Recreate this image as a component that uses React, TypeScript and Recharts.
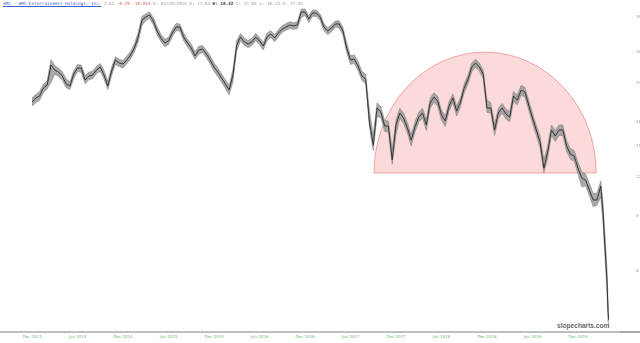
import { Area, ComposedChart, Line, ReferenceArea, XAxis, YAxis } from 'recharts';

// months after 1 Dec 2013, sampled about twice a month
const MONTHS = [
  0, 0.5, 1, 1.5, 2, 2.5, 3, 3.5, 4, 4.5, 5, 5.5, 6, 6.5, 7, 7.5, 8, 8.5, 9, 9.5,
  10, 10.5, 11, 11.5, 12, 12.5, 13, 13.5, 14, 14.5, 15, 15.5, 16, 16.5, 17, 17.5, 18, 18.5, 19, 19.5,
  20, 20.5, 21, 21.5, 22, 22.5, 23, 23.5, 24, 24.5, 25, 25.5, 26, 26.5, 27, 27.5, 28, 28.5, 29, 29.5,
  30, 30.5, 31, 31.5, 32, 32.5, 33, 33.5, 34, 34.5, 35, 35.5, 36, 36.5, 37, 37.5, 38, 38.5, 39, 39.5,
  40, 40.5, 41, 41.5, 42, 42.5, 43, 43.5, 44, 44.5, 45, 45.5, 46, 46.5, 47, 47.5, 48, 48.5, 49, 49.5,
  50, 50.5, 51, 51.5, 52, 52.5, 53, 53.5, 54, 54.5, 55, 55.5, 56, 56.5, 57, 57.5, 58, 58.5, 59, 59.5,
  60, 60.5, 61, 61.5, 62, 62.5, 63, 63.5, 64, 64.5, 65, 65.5, 66, 66.5, 67, 67.5, 68, 68.5, 69, 69.5,
  70, 70.5, 71, 71.5, 72, 72.5, 73, 73.5, 74, 74.5, 75, 75.3, 75.5, 75.7, 75.85, 75.95, 76.05,
];

const CLOSES = [
  20.72, 21.33, 21.65, 22.97, 23.48, 27.2, 26.22, 25.83, 25.09, 23.66, 23.31, 25.46, 26.61, 26.61, 24.36, 25.09, 25.27, 26.22, 26.8, 25.27,
  23.31, 26.03, 28.22, 27.6, 27.4, 28.22, 29.28, 30.82, 33.42, 37.87, 38.71, 39.29, 37.59, 34.93, 33.18, 31.98, 32.45, 34.42, 35.97, 35.97,
  33.42, 31.98, 30.82, 29.06, 30.37, 30.6, 29.49, 28.22, 26.8, 25.83, 24.72, 23.66, 22.63, 25.27, 31.51, 33.42, 32.22, 31.75, 32.22, 33.42,
  32.45, 31.28, 33.42, 34.17, 33.18, 34.42, 35.45, 35.97, 36.5, 36.24, 36.5, 40.16, 40.16, 38.15, 39.87, 39.87, 38.71, 35.97, 34.93, 35.71,
  36.77, 36.77, 34.93, 30.82, 28.22, 28.43, 27.0, 25.09, 24.54, 17.88, 15.1, 19.83, 19.25, 17.37, 17.37, 13.53, 17.49, 19.11, 18.42, 17.12,
  15.66, 17.24, 18.55, 19.11, 17.49, 20.56, 21.49, 20.87, 18.83, 18.02, 20.12, 21.33, 19.39, 20.72, 22.97, 24.54, 26.8, 27.6, 26.8, 25.46,
  19.83, 19.83, 16.87, 19.11, 19.83, 18.97, 18.55, 21.65, 21.02, 22.63, 22.3, 20.26, 18.42, 16.87, 15.43, 12.75, 14.34, 16.87, 16.13, 16.87,
  16.87, 14.99, 14.13, 13.93, 12.75, 11.84, 11.67, 10.85, 10.08, 10.08, 11.17, 9.22, 7.51, 6.3, 5.4, 4.5, 4.18,
];

const HIGHS = [
  21.4, 21.9, 22.4, 23.6, 24.2, 28.3, 27.1, 26.6, 25.9, 24.6, 24.0, 26.1, 27.3, 27.2, 25.2, 25.8, 26.0, 26.9, 27.5, 26.1,
  24.1, 26.8, 28.9, 28.4, 28.1, 29.0, 30.1, 31.8, 34.5, 38.9, 39.6, 40.2, 38.6, 36.0, 34.1, 32.9, 33.3, 35.3, 36.9, 36.8,
  34.4, 32.9, 31.7, 30.0, 31.2, 31.4, 30.3, 29.1, 27.6, 26.6, 25.5, 24.4, 23.4, 26.4, 32.6, 34.3, 33.1, 32.6, 33.1, 34.3,
  33.3, 32.1, 34.4, 35.0, 34.0, 35.3, 36.3, 36.9, 37.4, 37.1, 37.4, 41.0, 41.1, 39.1, 40.8, 40.7, 39.6, 36.9, 35.8, 36.6,
  37.6, 37.7, 35.9, 32.0, 29.1, 29.3, 27.9, 26.0, 25.4, 19.5, 16.2, 20.6, 20.0, 18.1, 18.0, 14.6, 18.2, 19.8, 19.1, 17.8,
  16.3, 17.9, 19.2, 19.8, 18.2, 21.3, 22.2, 21.6, 19.5, 18.7, 20.8, 22.0, 20.1, 21.4, 23.7, 25.3, 27.6, 28.4, 27.6, 26.2,
  21.0, 20.6, 17.6, 19.8, 20.5, 19.7, 19.3, 22.4, 21.8, 23.4, 23.1, 21.0, 19.1, 17.5, 16.1, 13.6, 15.0, 17.5, 16.8, 17.5,
  17.5, 15.6, 14.7, 14.5, 13.3, 12.4, 12.2, 11.4, 10.6, 10.6, 11.6, 9.9, 8.3, 6.9, 5.9, 4.9, 4.5,
];

const LOWS = [
  20.1, 20.6, 21.0, 22.2, 22.8, 23.9, 25.4, 25.0, 24.3, 23.0, 22.7, 24.6, 25.9, 25.8, 23.7, 24.4, 24.6, 25.5, 26.0, 24.5,
  22.7, 25.2, 27.3, 26.9, 26.6, 27.5, 28.5, 29.9, 32.2, 36.4, 37.7, 38.3, 36.6, 34.0, 32.3, 31.1, 31.6, 33.5, 35.0, 34.9,
  32.5, 31.1, 29.9, 28.3, 29.5, 29.8, 28.7, 27.4, 26.0, 25.0, 24.0, 22.9, 21.8, 24.1, 30.2, 32.5, 31.4, 30.9, 31.4, 32.5,
  31.6, 30.4, 32.5, 33.3, 32.3, 33.5, 34.6, 35.1, 35.6, 35.3, 35.6, 38.5, 39.2, 37.2, 38.9, 38.9, 37.8, 35.0, 34.0, 34.8,
  35.9, 35.8, 33.9, 29.8, 27.3, 27.6, 26.1, 24.3, 23.7, 17.2, 14.5, 18.6, 18.5, 16.7, 16.6, 13.1, 16.3, 18.4, 17.7, 16.5,
  15.0, 16.6, 17.9, 18.4, 16.8, 19.8, 20.7, 20.1, 18.1, 17.3, 19.4, 20.6, 18.7, 20.0, 22.2, 23.7, 25.9, 26.8, 26.0, 24.6,
  19.2, 19.1, 16.2, 18.4, 19.1, 18.3, 17.9, 20.8, 20.3, 21.8, 21.5, 19.5, 17.7, 16.2, 14.8, 12.3, 13.7, 16.2, 15.5, 16.2,
  16.2, 14.4, 13.6, 13.4, 12.2, 11.1, 11.2, 10.4, 9.6, 9.7, 10.3, 8.5, 7.0, 5.8, 4.9, 4.2, 3.95,
];

const TICK_MONTHS = [0, 6, 12, 18, 24, 30, 36, 42, 48, 54, 60, 66, 72];
const TICK_LABELS = [
  'Dec 2013', 'Jun 2014', 'Dec 2014', 'Jun 2015', 'Dec 2015', 'Jun 2016', 'Dec 2016',
  'Jun 2017', 'Dec 2017', 'Jun 2018', 'Dec 2018', 'Jun 2019', 'Dec 2019',
];
const PRICE_TICKS = [6, 9, 12, 15, 18, 21, 24, 27, 30, 33, 36, 39];

// rounding top drawn over the 2017-2019 range
const ARC_START = 45.1;
const ARC_END = 74.4;
const ARC_BASE = 12.3;
const ARC_TOP = 29.9;

const rows = MONTHS.map((t, i) => ({
  t,
  close: CLOSES[i],
  range: [LOWS[i], HIGHS[i]],
}));

function HalfCircle(props: any) {
  const { x, y, width, height } = props;
  const bottom = y + height;
  const d = `M${x},${bottom} A${width / 2},${height} 0 0 1 ${x + width},${bottom} Z`;
  return <path d={d} fill="#f7a3a3" fillOpacity={0.4} stroke="#ef8f8f" strokeWidth={0.8} />;
}

function XTick(props: any) {
  const { x, y, payload } = props;
  const idx = TICK_MONTHS.indexOf(payload.value);
  return (
    <text x={x} y={y - 2} textAnchor="middle" fontSize={4} fill="#6fb86f" fontFamily="DejaVu Sans">
      {TICK_LABELS[idx]}
    </text>
  );
}

function YTick(props: any) {
  const { x, y, payload } = props;
  return (
    <text x={x + 8} y={y + 1.5} textAnchor="start" fontSize={4} fill="#999" fontFamily="DejaVu Sans">
      {payload.value}
    </text>
  );
}

export default function App() {
  return (
    <div
      style={{
        position: 'absolute',
        left: 0,
        top: 0,
        width: 640,
        height: 343,
        background: '#fff',
        fontFamily: 'DejaVu Sans',
      }}
    >
      <div
        style={{
          position: 'absolute',
          left: 3,
          top: 1,
          fontFamily: '"DejaVu Sans Mono", monospace',
          fontSize: 4.3,
          whiteSpace: 'nowrap',
          color: '#999',
          zIndex: 2,
        }}
      >
        <span style={{ color: '#3a5fcd', textDecoration: 'underline' }}>
          AMC - AMC Entertainment Holdings, Inc.
        </span>
        <span> 2.62 </span>
        <span style={{ color: '#e06060' }}>-0.29 -10.01%</span>
        <span> D: 03/20/2014 O: 17.83 </span>
        <span style={{ color: '#333', fontWeight: 'bold' }}>H: 18.32</span>
        <span> C: 17.04 L: 16.13 V: 27.01</span>
      </div>
      <ComposedChart
        width={640}
        height={343}
        data={rows}
        margin={{ top: 0, right: 0, bottom: 0, left: 0 }}
      >
        <XAxis
          dataKey="t"
          type="number"
          domain={[-4.22, 77.54]}
          allowDataOverflow
          ticks={TICK_MONTHS}
          tick={<XTick />}
          tickLine={false}
          axisLine={{ stroke: '#aaa', strokeWidth: 1.5 }}
          height={11}
        />
        <YAxis
          orientation="right"
          scale="log"
          domain={[3.82, 43.87]}
          allowDataOverflow
          ticks={PRICE_TICKS}
          tick={<YTick />}
          tickLine={false}
          axisLine={false}
          width={20}
        />
        <ReferenceArea
          x1={ARC_START}
          x2={ARC_END}
          y1={ARC_BASE}
          y2={ARC_TOP}
          shape={<HalfCircle />}
          ifOverflow="visible"
        />
        <Area
          dataKey="range"
          type="linear"
          stroke="#777"
          strokeWidth={0.5}
          fill="#9a9a9a"
          fillOpacity={0.85}
          dot={false}
          activeDot={false}
          isAnimationActive={false}
        />
        <Line
          dataKey="close"
          type="linear"
          stroke="#2a2a2a"
          strokeWidth={0.9}
          dot={false}
          activeDot={false}
          isAnimationActive={false}
        />
      </ComposedChart>
      <div
        style={{
          position: 'absolute',
          left: 620,
          top: 331.25,
          width: 20,
          height: 1.5,
          background: '#aaa',
        }}
      />
      <div
        style={{
          position: 'absolute',
          left: 557,
          top: 322,
          fontFamily: '"Liberation Sans", Arial, sans-serif',
          fontWeight: 'bold',
          fontSize: 6.6,
          color: '#6a6a6a',
        }}
      >
        slopecharts.com
      </div>
    </div>
  );
}
